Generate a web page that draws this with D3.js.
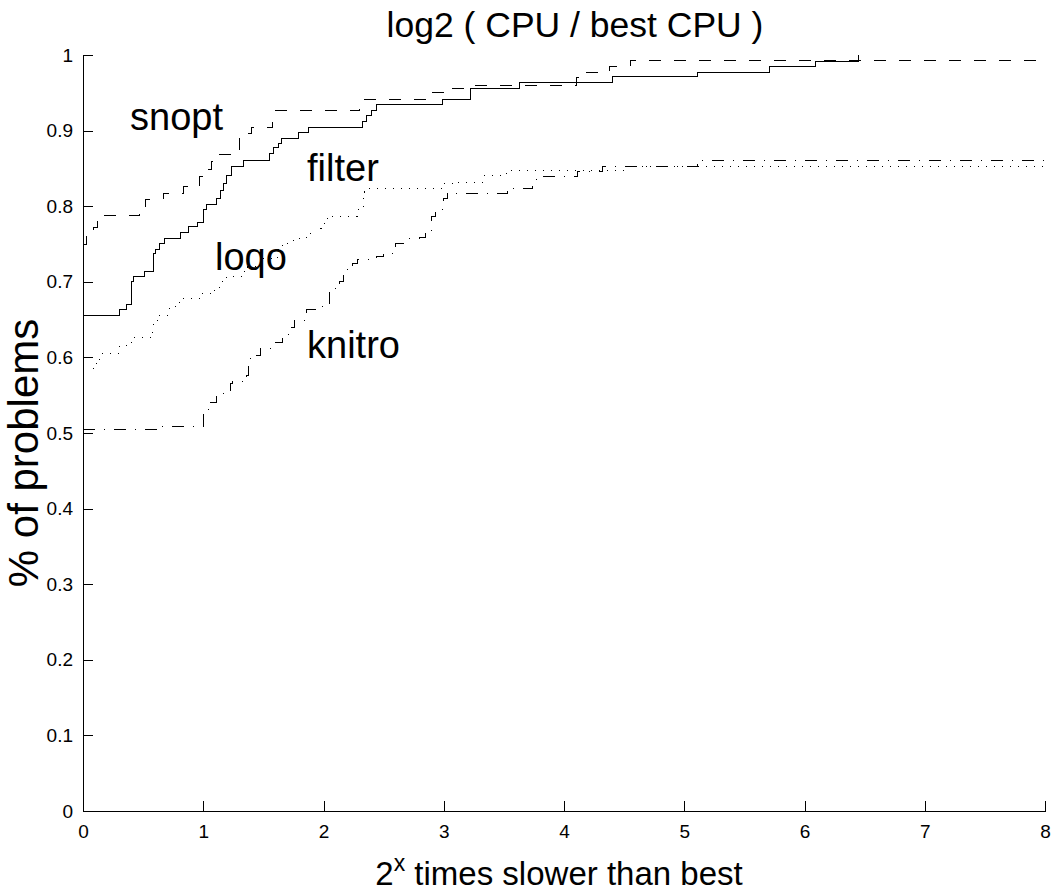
<!DOCTYPE html>
<html>
<head>
<meta charset="utf-8">
<script src="https://cdn.jsdelivr.net/npm/d3@7"></script>
<style>
body { margin: 0; background: #fff; }
text { font-family: Arial, "Liberation Sans", Helvetica, sans-serif; fill: #000; }
</style>
</head>
<body>
<script>
var width = 1052;
var height = 892;

// tick values / labels
var xTicks = [0, 1, 2, 3, 4, 5, 6, 7, 8];
var yTicks = [0, 0.1, 0.2, 0.3, 0.4, 0.5, 0.6, 0.7, 0.8, 0.9, 1];
var yTickLabels = ["0", "0.1", "0.2", "0.3", "0.4", "0.5", "0.6", "0.7", "0.8", "0.9", "1"];

// step positions (log2 ratio) and fraction of problems solved
var filterX = [0, 0.30, 0.363, 0.405, 0.418, 0.51, 0.585, 0.60, 0.64, 0.68, 0.807, 0.876, 0.95, 1.0, 1.03, 1.11, 1.14, 1.17, 1.195, 1.236, 1.333, 1.555, 1.583, 1.624, 1.652, 1.79, 1.874, 2.323, 2.36, 2.40, 2.44, 2.988, 3.224, 3.628, 4.40, 5.108, 5.713, 6.093, 6.445];
var filterY = [0.656, 0.664, 0.670, 0.700, 0.707, 0.714, 0.738, 0.743, 0.751, 0.757, 0.765, 0.773, 0.779, 0.795, 0.802, 0.810, 0.821, 0.830, 0.840, 0.852, 0.860, 0.870, 0.877, 0.883, 0.890, 0.897, 0.904, 0.912, 0.920, 0.927, 0.934, 0.941, 0.956, 0.963, 0.971, 0.977, 0.985, 0.992, 1.0];

var snoptX = [0, 0.03, 0.09, 0.12, 0.474, 0.52, 0.667, 0.835, 0.97, 1.0, 1.07, 1.085, 1.30, 1.32, 1.40, 1.58, 1.59, 2.30, 2.31, 2.87, 3.05, 3.23, 4.10, 4.16, 4.38, 4.55, 8];
var snoptY = [0.750, 0.760, 0.772, 0.788, 0.799, 0.809, 0.817, 0.826, 0.839, 0.849, 0.859, 0.868, 0.890, 0.896, 0.904, 0.915, 0.926, 0.933, 0.941, 0.950, 0.956, 0.959, 0.970, 0.977, 0.985, 0.993, 0.993];

var loqoX = [0, 0.03, 0.085, 0.11, 0.14, 0.30, 0.37, 0.40, 0.58, 0.585, 0.62, 0.72, 0.77, 0.80, 0.99, 1.08, 1.12, 1.16, 1.19, 1.33, 1.37, 1.48, 1.62, 1.66, 1.75, 1.86, 1.91, 1.98, 2.01, 2.05, 2.28, 2.32, 2.33, 2.345, 2.38, 2.995, 3.08, 3.33, 3.52, 4.52, 8];
var loqoY = [0.577, 0.583, 0.589, 0.597, 0.605, 0.616, 0.619, 0.626, 0.636, 0.643, 0.656, 0.665, 0.671, 0.678, 0.684, 0.689, 0.693, 0.702, 0.707, 0.713, 0.720, 0.731, 0.743, 0.751, 0.757, 0.764, 0.771, 0.773, 0.784, 0.787, 0.795, 0.797, 0.810, 0.819, 0.823, 0.830, 0.832, 0.840, 0.847, 0.853, 0.853];

var knitroX = [0, 0.65, 1.0, 1.06, 1.11, 1.20, 1.23, 1.24, 1.36, 1.375, 1.39, 1.44, 1.48, 1.60, 1.655, 1.73, 1.755, 1.86, 1.98, 2.05, 2.08, 2.135, 2.165, 2.19, 2.245, 2.28, 2.44, 2.50, 2.60, 2.69, 2.80, 2.845, 2.90, 2.93, 2.996, 3.03, 3.53, 3.74, 3.77, 4.11, 4.32, 5.11, 8];
var knitroY = [0.504, 0.509, 0.531, 0.541, 0.552, 0.556, 0.566, 0.568, 0.576, 0.592, 0.598, 0.603, 0.612, 0.620, 0.630, 0.640, 0.649, 0.663, 0.667, 0.687, 0.691, 0.700, 0.713, 0.716, 0.724, 0.729, 0.733, 0.738, 0.751, 0.757, 0.759, 0.768, 0.786, 0.795, 0.810, 0.817, 0.824, 0.832, 0.839, 0.846, 0.853, 0.861, 0.861];

var svg = d3.select("body").append("svg")
            .attr("width", width)
            .attr("height", height);

var x = d3.scaleLinear().domain([0, 8]).range([83, 1045]);
var y = d3.scaleLinear().domain([0, 1]).range([811, 55]);

//axes, ticks pointing inwards like matlab
var xAxis = d3.axisBottom(x).tickValues(xTicks).tickFormat(d3.format("d"))
              .tickSizeInner(-10).tickSizeOuter(0).tickPadding(14);
var yAxis = d3.axisLeft(y).tickValues(yTicks).tickFormat(function(d, i) { return yTickLabels[i]; })
              .tickSizeInner(-10).tickSizeOuter(0).tickPadding(10);

var gx = svg.append("g").attr("transform", "translate(0,811)").call(xAxis);
var gy = svg.append("g").attr("transform", "translate(83,0)").call(yAxis);
svg.selectAll(".domain, .tick line").attr("stroke", "#000").attr("shape-rendering", "crispEdges");
svg.selectAll(".tick text").attr("font-size", 19).attr("font-family", "Arial, 'Liberation Sans', sans-serif");

// step curves
var line = d3.line()
             .x(function(d) { return x(d[0]); })
             .y(function(d) { return y(d[1]); })
             .curve(d3.curveStepAfter);

function drawSeries(xs, ys, dash) {
    svg.append("path")
       .datum(d3.zip(xs, ys))
       .attr("d", line)
       .attr("fill", "none")
       .attr("stroke", "#000")
       .attr("stroke-width", 1)
       .attr("stroke-dasharray", dash)
       .attr("shape-rendering", "crispEdges");
}

drawSeries(filterX, filterY, null);
drawSeries(snoptX, snoptY, "12,13");
drawSeries(loqoX, loqoY, "1,7");
drawSeries(knitroX, knitroY, "12,9,1,9");

// labels next to the curves
var names = [["snopt", 130, 130], ["filter", 307, 181], ["loqo", 215, 270], ["knitro", 307, 358]];
names.forEach(function(n) {
    svg.append("text").attr("x", n[1]).attr("y", n[2]).attr("font-size", 38).text(n[0]);
});

// title
svg.append("text").attr("x", 575).attr("y", 37).attr("text-anchor", "middle")
   .attr("font-size", 35.5).text("log2 ( CPU / best CPU )");

// y label
svg.append("text").attr("transform", "translate(38,453) rotate(-90)")
   .attr("text-anchor", "middle").attr("font-size", 42).text("% of problems");

// x label with superscript
var xl = svg.append("text").attr("x", 559).attr("y", 885).attr("text-anchor", "middle").attr("font-size", 33);
xl.append("tspan").text("2");
xl.append("tspan").attr("dy", -14).attr("font-size", 23).text("x");
xl.append("tspan").attr("dy", 14).text(" times slower than best");
</script>
</body>
</html>
